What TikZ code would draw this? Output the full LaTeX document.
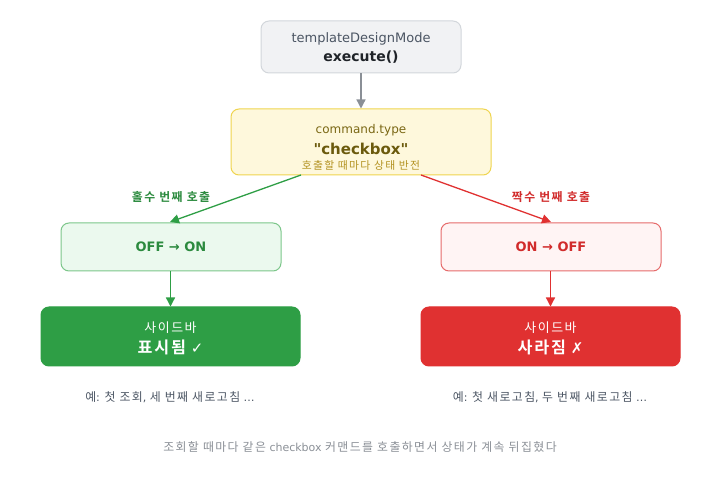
\documentclass[tikz,border=0pt]{standalone}
\usepackage{fontspec}
\setmainfont{DejaVu Sans}
\newfontfamily\kr{Noto Sans CJK KR}[Scale=1.08,LetterSpace=12]
\newfontfamily\krb{Noto Sans CJK KR}[Scale=1.08,LetterSpace=12,BoldFont={* Bold}]
\newcommand{\straightdq}{\XeTeXglyph\XeTeXcharglyph"22\relax}
\usetikzlibrary{arrows.meta}
\definecolor{topfill}{HTML}{F1F2F4}
\definecolor{topdraw}{HTML}{D2D6DB}
\definecolor{topsub}{HTML}{4B5563}
\definecolor{topmain}{HTML}{1F2328}
\definecolor{grayarrow}{HTML}{8A8F96}
\definecolor{yfill}{HTML}{FEF8DC}
\definecolor{ydraw}{HTML}{EFD44E}
\definecolor{ytext}{HTML}{7A6714}
\definecolor{ymain}{HTML}{6B5A0C}
\definecolor{ysub}{HTML}{B39221}
\definecolor{gline}{HTML}{2E9E45}
\definecolor{gtext}{HTML}{2B8A3E}
\definecolor{gfill}{HTML}{EBF9EE}
\definecolor{gdraw}{HTML}{7CC68A}
\definecolor{rline}{HTML}{E03131}
\definecolor{rtext}{HTML}{D12B2B}
\definecolor{rfill}{HTML}{FFF4F4}
\definecolor{rdraw}{HTML}{E66B6B}
\definecolor{captext}{HTML}{4B5563}
\definecolor{foottext}{HTML}{8A8F96}
\tikzset{
  fs/.style={font=\fontsize{#1}{#1}\selectfont},
  box/.style={rounded corners=8pt, line width=1pt, inner sep=0pt, align=center},
  arr/.style={line width=1.3pt, -{Triangle[length=9pt,width=9pt]}},
}
\begin{document}
\begin{tikzpicture}[x=1pt,y=-1pt]
\useasboundingbox (0,0) rectangle (721,481);
% top box
\node[box, draw=topdraw, fill=topfill, minimum width=200pt, minimum height=52pt] (top) at (361,47) {};
\node[fs=13, text=topsub] (t1) at (361,38.5) {templateDesignMode};
\node[text=topmain] (t2) at (361,57) {\fontsize{14}{14}\selectfont\bfseries execute()};
% yellow box
\node[box, draw=ydraw, fill=yfill, minimum width=260pt, minimum height=66pt] (cmd) at (361,142) {};
\node[fs=12, text=ytext] (c1l) at (361,130) {command.type};
\node[text=ymain] (c2l) at (361,149) {\fontsize{15}{15}\selectfont\bfseries \straightdq checkbox\straightdq};
\node[fs=10, text=ysub] (c3l) at (361,165) {\kr 호출할 때마다 상태 반전};
% green / red state boxes
\node[box, draw=gdraw, fill=gfill, minimum width=220pt, minimum height=48pt] (on) at (171,247) {};
\node[text=gtext] (onl) at (171,246.5) {\fontsize{13}{13}\selectfont\bfseries OFF → ON};
\node[box, draw=rdraw, fill=rfill, minimum width=220pt, minimum height=48pt] (off) at (551,247) {};
\node[text=rtext] (offl) at (551,246.5) {\fontsize{13}{13}\selectfont\bfseries ON → OFF};
% result boxes
\node[box, draw=gline, fill=gline, minimum width=259pt, minimum height=59pt] (show) at (170.5,336.5) {};
\node[fs=12, text=white] (s1) at (170.5,327.5) {\kr 사이드바};
\node[text=white] (s2) at (170.5,347.5) {\fontsize{15}{15}\selectfont{\krb\bfseries 표시됨} ✓};
\node[box, draw=rline, fill=rline, minimum width=259pt, minimum height=59pt] (hide) at (550.5,336.5) {};
\node[fs=12, text=white] (h1) at (550.5,327.5) {\kr 사이드바};
\node[text=white] (h2) at (550.5,347.5) {\fontsize{15}{15}\selectfont{\krb\bfseries 사라짐} ✗};
% arrows
\draw[arr, grayarrow] (top.south) -- (cmd.north);
\coordinate (gs) at (301,175);
\coordinate (ge) at (170,222);
\coordinate (rs) at (421,175);
\coordinate (re) at (551,222);
\draw[arr, gline] (gs) -- (ge);
\draw[arr, rline] (rs) -- (re);
\node[fs=11, text=gtext] (gl) at (171,197) {\krb\bfseries 홀수 번째 호출};
\node[fs=11, text=rtext] (rl) at (551,197) {\krb\bfseries 짝수 번째 호출};
\draw[arr, gline] (on.south -| show.north) -- (show.north);
\draw[arr, rline] (off.south -| hide.north) -- (hide.north);
% captions
\node[fs=11, text=captext] (cap1) at (170,397) {{\kr 예}: {\kr 첫 조회}, {\kr 세 번째 새로고침} …};
\node[fs=11, text=captext] (cap2) at (550,397) {{\kr 예}: {\kr 첫 새로고침}, {\kr 두 번째 새로고침} …};
\node[fs=11, text=foottext] (foot) at (360,447) {{\kr 조회할 때마다 같은} checkbox {\kr 커맨드를 호출하면서 상태가 계속 뒤집혔다}};
\end{tikzpicture}
\end{document}
